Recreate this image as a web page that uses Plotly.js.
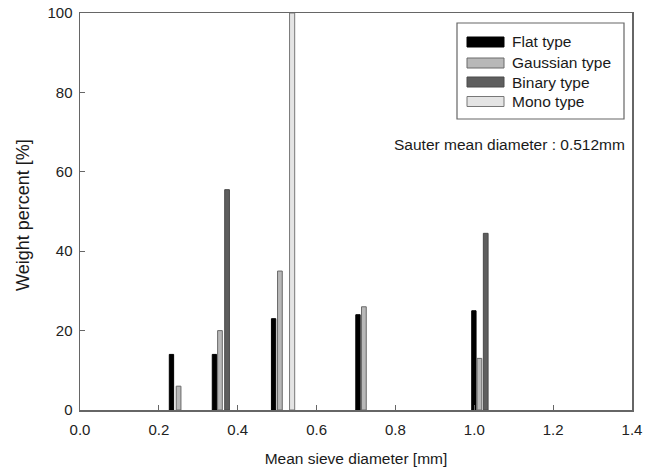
<!DOCTYPE html>
<html><head><meta charset="utf-8">
<script src="https://cdn.plot.ly/plotly-3.0.1.min.js"></script>
<style>html,body{margin:0;padding:0;background:#fff}#chart{width:655px;height:475px}</style>
</head><body><div id="chart"></div>
<script>
// Data
const seriesNames = ["Flat type", "Gaussian type", "Binary type", "Mono type"];
const flatX = [0.232, 0.341, 0.491, 0.705, 0.999];
const flatY = [14, 14, 23, 24, 25];
const gaussX = [0.250, 0.355, 0.507, 0.720, 1.013];
const gaussY = [6, 20, 35, 26, 13];
const binaryX = [0.373, 1.029];
const binaryY = [55.5, 44.5];
const monoX = [0.538];
const monoY = [100];
const xTicks = [0, 0.2, 0.4, 0.6, 0.8, 1.0, 1.2, 1.4];
const xTickLabels = ["0.0", "0.2", "0.4", "0.6", "0.8", "1.0", "1.2", "1.4"];
const yTicks = [0, 20, 40, 60, 80, 100];
const sauterText = "Sauter mean diameter : 0.512mm";

const FONT = "Liberation Sans, Arial, sans-serif";
const fills = ["#000000", "#b8b8b8", "#5e5e5e", "#e4e4e4"];
const lines = ["#000000", "#6a6a6a", "#4a4a4a", "#777777"];
const widths = [0.011, 0.012, 0.012, 0.013];
const xs = [flatX, gaussX, binaryX, monoX];
const ys = [flatY, gaussY, binaryY, monoY];

const traces = xs.map((x, i) => ({
  type: "bar", x: x, y: ys[i], name: seriesNames[i], width: widths[i],
  marker: {color: fills[i], line: {color: lines[i], width: 1}},
  showlegend: false, hoverinfo: "x+y"
}));

// plot area in px: x 80-632, y 13-410
const L = 80, R = 632, T = 13, B = 410;
const px = v => (v - L) / (R - L);
const py = v => (B - v) / (B - T);

const shapes = [{type: "rect", xref: "paper", yref: "paper", x0: px(457), x1: px(624), y0: py(119), y1: py(23),
  line: {color: "#666", width: 1.2}, fillcolor: "rgba(0,0,0,0)"}];
const annotations = [];
const rows = [42, 63, 82, 101.5];
seriesNames.forEach((n, i) => {
  shapes.push({type: "rect", xref: "paper", yref: "paper", x0: px(467), x1: px(504), y0: py(rows[i] + 5), y1: py(rows[i] - 5),
    line: {color: lines[i], width: 1}, fillcolor: fills[i]});
  annotations.push({xref: "paper", yref: "paper", x: px(510), y: py(rows[i]), xanchor: "left", yanchor: "middle",
    text: n, showarrow: false, font: {family: FONT, size: 15.5, color: "#1a1a1a"}});
});
annotations.push({xref: "paper", yref: "paper", x: px(627), y: py(144), xanchor: "right", yanchor: "middle",
  text: sauterText, showarrow: false, font: {family: FONT, size: 15.5, color: "#1a1a1a"}});
// y-axis title placed to match reference position
annotations.push({xref: "paper", yref: "paper", x: px(23), y: py(215), xanchor: "center", yanchor: "middle", textangle: -90,
  text: "Weight percent [%]", showarrow: false, font: {family: FONT, size: 18, color: "#1a1a1a"}});

const axisCommon = {showgrid: false, zeroline: false, showline: true, mirror: true, linecolor: "#666", linewidth: 1.5,
  ticks: "inside", ticklen: 5, tickcolor: "#666", tickwidth: 1,
  tickfont: {family: FONT, size: 15, color: "#222"}};

const layout = {
  width: 655, height: 475, margin: {l: L, r: 655 - R, t: T, b: 475 - B},
  paper_bgcolor: "#fff", plot_bgcolor: "#fff", barmode: "overlay", bargap: 0,
  xaxis: Object.assign({}, axisCommon, {range: [0, 1.4], tickvals: xTicks, ticktext: xTickLabels, ticklabelstandoff: 5,
    title: {text: "Mean sieve diameter [mm]", font: {family: FONT, size: 15.5, color: "#1a1a1a"}, standoff: 16}}),
  yaxis: Object.assign({}, axisCommon, {range: [0, 100], tickvals: yTicks, ticklabelstandoff: 3}),
  shapes: shapes, annotations: annotations, showlegend: false
};
Plotly.newPlot("chart", traces, layout, {displayModeBar: false, staticPlot: true});
</script></body></html>
